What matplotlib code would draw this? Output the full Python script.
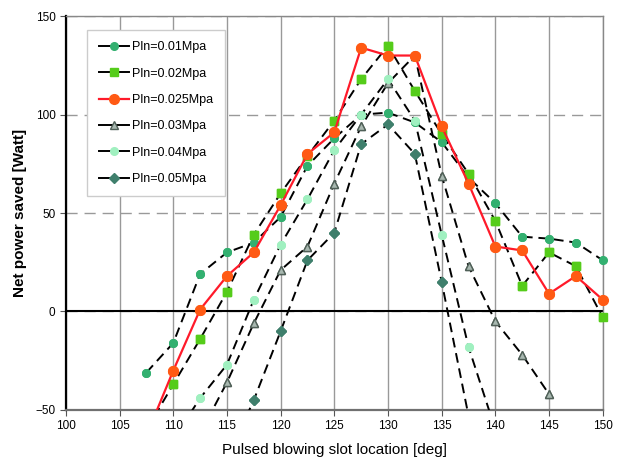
import numpy as np
import matplotlib
matplotlib.use("Agg")
import matplotlib.pyplot as plt
from matplotlib.lines import Line2D

plt.rcParams['font.family'] = ['Liberation Sans', 'DejaVu Sans']

# slot locations [deg]
x = [107.5, 110, 112.5, 115, 117.5, 120, 122.5, 125, 127.5,
     130, 132.5, 135, 137.5, 140, 142.5, 145, 147.5, 150]

# net power saved [Watt], None = no point
p001 = [-31, -16, 19, 30, 35, 48, 74, 88, 100, 101, 96, 86, 68, 55, 38, 37, 35, 26]
p002 = [-60, -37, -14, 10, 39, 60, 79, 97, 118, 135, 112, 90, 70, 46, 13, 30, 23, -3]
p0025 = [-63, -30, 1, 18, 30, 54, 80, 91, 134, 130, 130, 94, 65, 33, 31, 9, 18, 6]
p003 = [None, None, -62, -36, -6, 21, 33, 65, 94, 116, 130, 69, 23, -5, -22, -42, None, None]
p004 = [None, -65, -44, -27, 6, 34, 57, 82, 100, 118, 97, 39, -18, -60, None, None, None, None]
p005 = [None, None, None, -75, -45, -10, 26, 40, 85, 95, 80, 15, -53, None, None, None, None, None]

labels = ["Pln=0.01Mpa", "Pln=0.02Mpa", "Pln=0.025Mpa",
          "Pln=0.03Mpa", "Pln=0.04Mpa", "Pln=0.05Mpa"]

fig = plt.figure(figsize=(6.22, 4.75), dpi=100)
ax = fig.add_axes([0.106, 0.137, 0.863, 0.829])

dash = (0, (5, 3))
styles = [
    dict(color='black', ls=dash, lw=1.4, marker='o', ms=5.5, mfc='#33b070', mec='#33b070'),
    dict(color='black', ls=dash, lw=1.4, marker='s', ms=6, mfc='#55cc1a', mec='#55cc1a'),
    dict(color='#ff1a2a', ls='-', lw=1.6, marker='o', ms=7, mfc='#ff5a14', mec='#ff5a14'),
    dict(color='black', ls=dash, lw=1.4, marker='^', ms=5.5, mfc='#a8b8b0', mec='#506058'),
    dict(color='black', ls=dash, lw=1.4, marker='o', ms=5.5, mfc='#a0f0c0', mec='#a0f0c0'),
    dict(color='black', ls=dash, lw=1.4, marker='D', ms=5, mfc='#3f7f6c', mec='#3f7f6c'),
]

series = [p001, p002, p0025, p003, p004, p005]
order = [0, 1, 3, 4, 5, 2]  # red on top
for i in order:
    ys = np.array([np.nan if v is None else v for v in series[i]], dtype=float)
    st = styles[i]
    ax.plot(x, ys, zorder=3 + (i == 2), **st)
    m = (ys >= -50) & (ys <= 150)
    ax.plot(np.array(x)[m], ys[m], ls='none', marker=st['marker'], ms=st['ms'],
            mfc=st['mfc'], mec=st['mec'], clip_on=False, zorder=4 + (i == 2))

# legend proxies with solid lines
handles = []
for i in range(6):
    st = dict(styles[i])
    st['ls'] = '-'
    handles.append(Line2D([], [], label=labels[i], **st))

ax.set_xlim(100, 150)
ax.set_ylim(-50, 150)
ax.set_xticks(np.arange(100, 151, 5))
ax.set_yticks([-50, 0, 50, 100, 150])
ax.tick_params(labelsize=8.5, length=4, color='#555555')

ax.grid(axis='x', color='#999999', lw=1.0)
ax.grid(axis='y', color='#999999', lw=1.0, ls=(0, (8, 5)))
ax.axhline(0, color='black', lw=1.5, zorder=2)

ax.spines['left'].set_color('black')
ax.spines['left'].set_linewidth(1.6)
ax.spines['bottom'].set_color('#707070')
ax.spines['bottom'].set_linewidth(1.6)
for s in ['top', 'right']:
    ax.spines[s].set_color('#888888')
    ax.spines[s].set_linewidth(1.0)

ax.set_xlabel("Pulsed blowing slot location [deg]", fontsize=11, labelpad=8)
ax.set_ylabel("Net power saved [Watt]", fontsize=11, fontweight='bold', labelpad=6)

leg = ax.legend(handles=handles, loc='upper left', bbox_to_anchor=(0.04, 0.965),
                borderaxespad=0, fontsize=9, labelspacing=1.15, handlelength=2.4,
                handletextpad=0.3, borderpad=0.9, fancybox=False, framealpha=1)
leg.get_frame().set_edgecolor('#cccccc')
leg.get_frame().set_linewidth(1.0)

fig.savefig("out.png", dpi=100)
